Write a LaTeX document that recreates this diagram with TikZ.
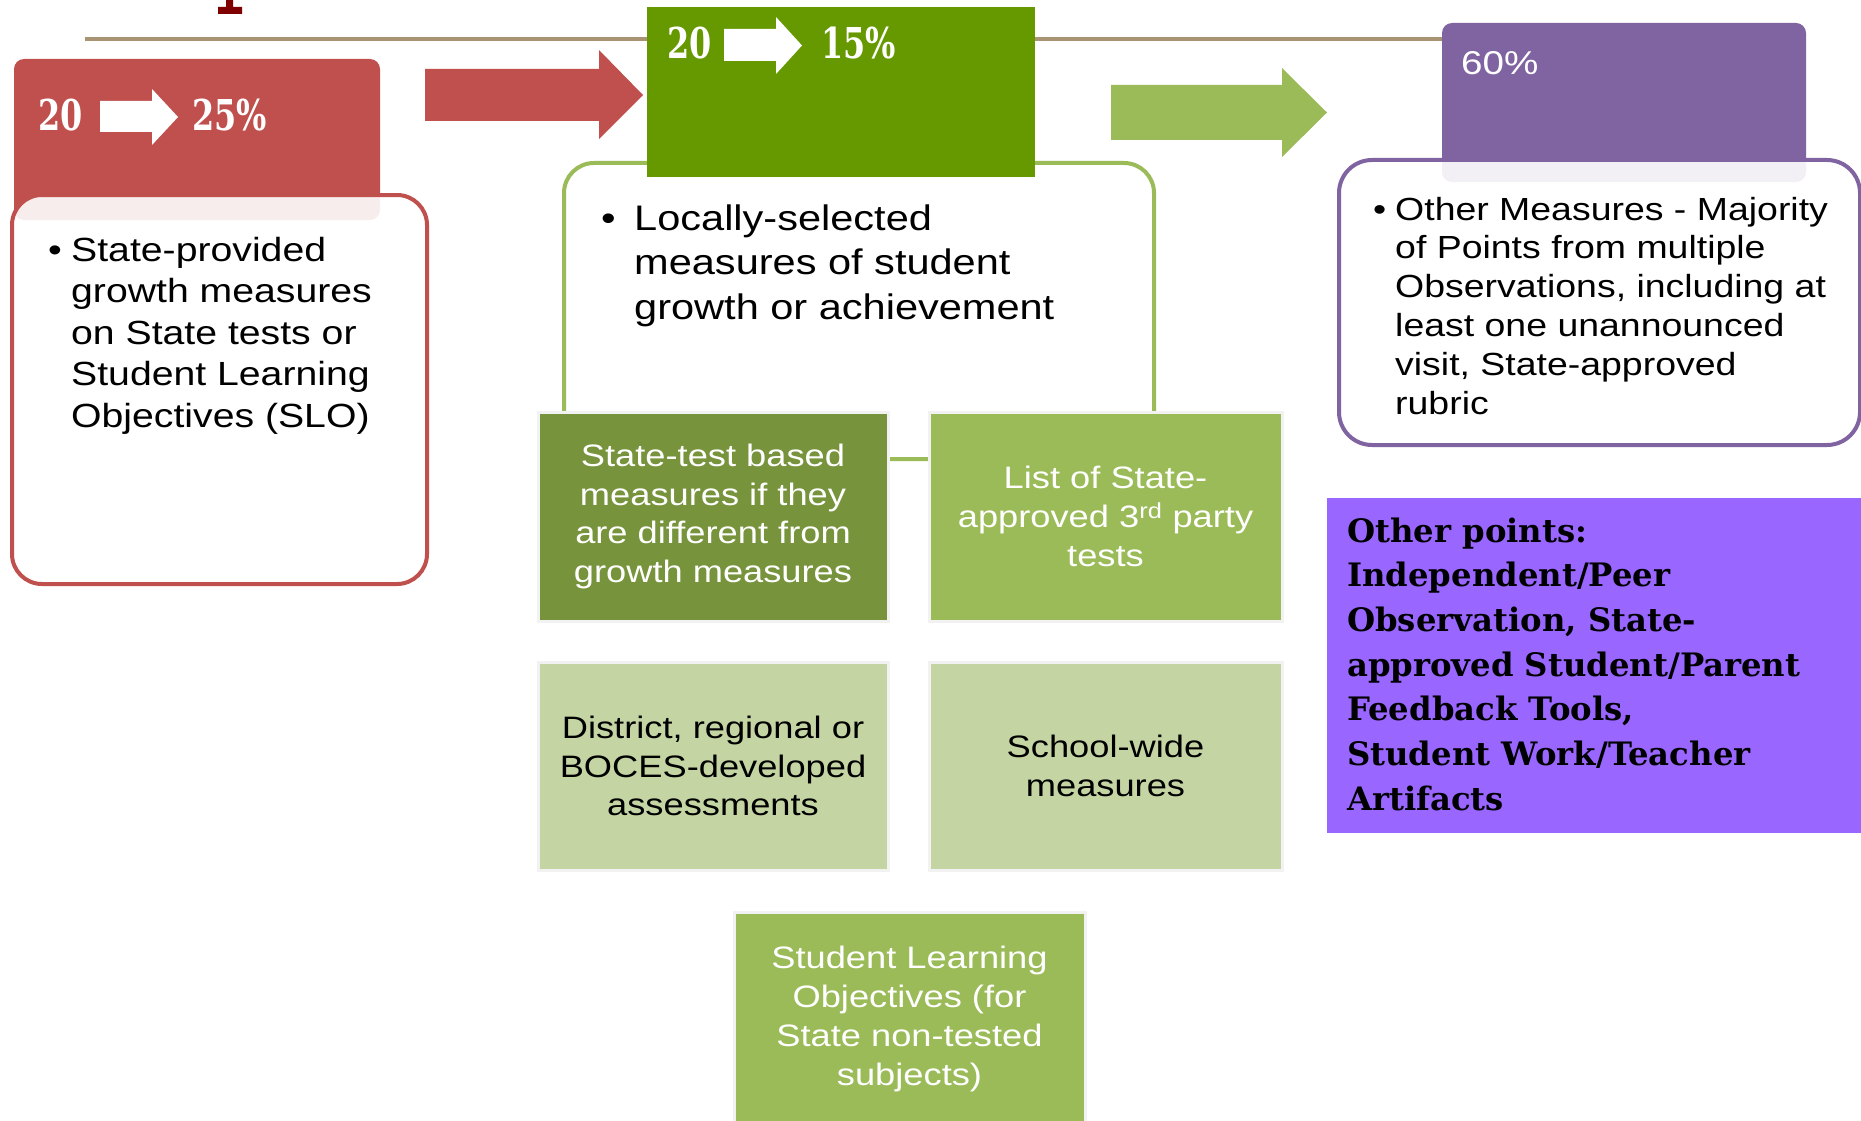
\documentclass[tikz,border=0pt]{standalone}
\usepackage{fontspec}
\setmainfont{Liberation Sans}
\newfontfamily\arx[FakeStretch=1.17]{Liberation Sans}
\newfontfamily\slabc[FakeStretch=0.75]{DejaVu Serif}
\newfontfamily\rock{DejaVu Serif}
\definecolor{cRed}{HTML}{C0504D}
\definecolor{cDarkRed}{HTML}{7F0000}
\definecolor{cTan}{HTML}{A89472}
\definecolor{cGreen}{HTML}{669900}
\definecolor{cLight}{HTML}{9BBB59}
\definecolor{cOlive}{HTML}{77933C}
\definecolor{cPale}{HTML}{C4D5A3}
\definecolor{cPurple}{HTML}{8064A2}
\definecolor{cViolet}{HTML}{9966FF}
\begin{document}
\begin{tikzpicture}[x=1pt,y=-1pt,
  hdr/.style={anchor=north west, inner sep=0pt, outer sep=0pt},
  outl/.style={rounded corners=30pt, line width=4pt, fill=white, fill opacity=0.9},
  tile/.style={anchor=north west, inner sep=0pt, outer sep=0pt, draw=black!5, line width=3pt},
  tiletext/.style={align=center, inner sep=0pt, font=\arx\fontsize{31}{38.8}\selectfont},
  pct/.style={anchor=west, inner sep=0pt, text=white, font=\slabc\bfseries\fontsize{42.5}{50}\selectfont},
  whitearrow/.style={fill=white}
]
\useasboundingbox (0,0) rectangle (1861,1121);
\fill[white] (0,0) rectangle (1861,1121);

% title fragment and rule
\fill[cDarkRed] (226,0) -- (233,0) -- (233,7) -- (242,7) -- (242,14) -- (218,14) -- (218,7) -- (226,7) -- cycle;
\coordinate (ruleA) at (85,39);
\coordinate (ruleB) at (1442,39);
\draw[cTan, line width=3.5pt] (ruleA) -- (ruleB);

% ---------- red column ----------
\node[hdr, fill=cRed, rounded corners=10pt, minimum width=366pt, minimum height=161pt] (redhdr) at (14,59) {};
\draw[cRed, outl] (12,195) rectangle (427,584);
\node[pct] (red20) at (38,115) {20};
\fill[whitearrow] (100,101) -- (152,101) -- (152,89) -- (178,117) -- (152,145) -- (152,132) -- (100,132) -- cycle;
\node[pct] (red25) at (192,115) {25\%};
\node[anchor=base west, inner sep=0pt, font=\arx\fontsize{33.5}{41.5}\selectfont] (redbul) at (48,261) {•};
\node[anchor=base west, inner sep=0pt, font=\arx\fontsize{33.5}{41.5}\selectfont] (redtxt) at (71,261)
  {\vtop{\baselineskip=41.5pt\hbox{State-provided}\hbox{growth measures}\hbox{on State tests or}\hbox{Student Learning}\hbox{Objectives (SLO)}}};

% red arrow
\fill[cRed] (425,69) -- (599,69) -- (599,50) -- (643,95) -- (599,139) -- (599,121) -- (425,121) -- cycle;

% ---------- green column ----------
\draw[cLight, rounded corners=30pt, line width=4pt, fill=white] (564,163) rectangle (1154,459);
\node[hdr, fill=cGreen, minimum width=388pt, minimum height=170pt] (grnhdr) at (647,7) {};
\node[pct] (grn20) at (667,43) {20};
\fill[whitearrow] (724,29) -- (776,29) -- (776,17) -- (802,45.5) -- (776,74) -- (776,61) -- (724,61) -- cycle;
\node[pct] (grn15) at (821,43) {15\%};
\node[anchor=base west, inner sep=0pt, font=\arx\fontsize{35.5}{44.5}\selectfont] (grnbul) at (601,230) {•};
\node[anchor=base west, inner sep=0pt, font=\arx\fontsize{35.5}{44.5}\selectfont] (grntxt) at (634,230)
  {\vtop{\baselineskip=44.5pt\hbox{Locally-selected}\hbox{measures of student}\hbox{growth or achievement}}};

% tiles
\node[tile, fill=cOlive, minimum width=350pt, minimum height=209pt] (tA) at (538,412) {};
\node[tiletext, text=white] (tAt) at (tA.center) {State-test based\\measures if they\\are different from\\growth measures};
\node[tile, fill=cLight, minimum width=353pt, minimum height=209pt] (tB) at (929,412) {};
\node[tiletext, text=white] (tBt) at (tB.center) {List of State-\\approved 3\textsuperscript{rd} party\\tests};
\node[tile, fill=cPale, minimum width=350pt, minimum height=208pt] (tC) at (538,662) {};
\node[tiletext, text=black] (tCt) at (tC.center) {District, regional or\\BOCES-developed\\assessments};
\node[tile, fill=cPale, minimum width=353pt, minimum height=208pt] (tD) at (929,662) {};
\node[tiletext, text=black] (tDt) at (tD.center) {School-wide\\measures};
\node[tile, fill=cLight, minimum width=351pt, minimum height=220pt] (tE) at (734,912) {};
\node[tiletext, text=white, anchor=north] (tEt) at ([yshift=-34pt]tE.north) {Student Learning\\Objectives (for\\State non-tested\\subjects)};

% green arrow
\fill[cLight] (1111,85) -- (1282,85) -- (1282,68) -- (1327,112.5) -- (1282,157) -- (1282,140) -- (1111,140) -- cycle;

% ---------- purple column ----------
\node[hdr, fill=cPurple, rounded corners=10pt, minimum width=364pt, minimum height=159pt] (purhdr) at (1442,23) {};
\draw[cPurple, outl, rounded corners=33pt] (1339,160) rectangle (1860,445);
\node[anchor=west, inner sep=0pt, text=white, font=\arx\fontsize{33}{40}\selectfont] (pur60) at (1461,63) {60\%};
\node[anchor=base west, inner sep=0pt, font=\arx\fontsize{32}{38.8}\selectfont] (purbul) at (1373,220) {•};
\node[anchor=base west, inner sep=0pt, font=\arx\fontsize{32}{38.8}\selectfont] (purtxt) at (1395,220)
  {\vtop{\baselineskip=38.8pt\hbox{Other Measures - Majority}\hbox{of Points from multiple}\hbox{Observations, including at}\hbox{least one unannounced}\hbox{visit, State-approved}\hbox{rubric}}};

\node[hdr, fill=cViolet, minimum width=534pt, minimum height=335pt] (other) at (1327,498) {};
\node[anchor=base west, inner sep=0pt, font=\rock\bfseries\fontsize{32.3}{44.7}\selectfont] (othertxt) at (1347,542)
  {\vtop{\baselineskip=44.7pt\hbox{Other points:}\hbox{Independent/Peer}\hbox{Observation, State-}\hbox{approved Student/Parent}\hbox{Feedback Tools,}\hbox{Student Work/Teacher}\hbox{Artifacts}}};
\end{tikzpicture}
\end{document}
